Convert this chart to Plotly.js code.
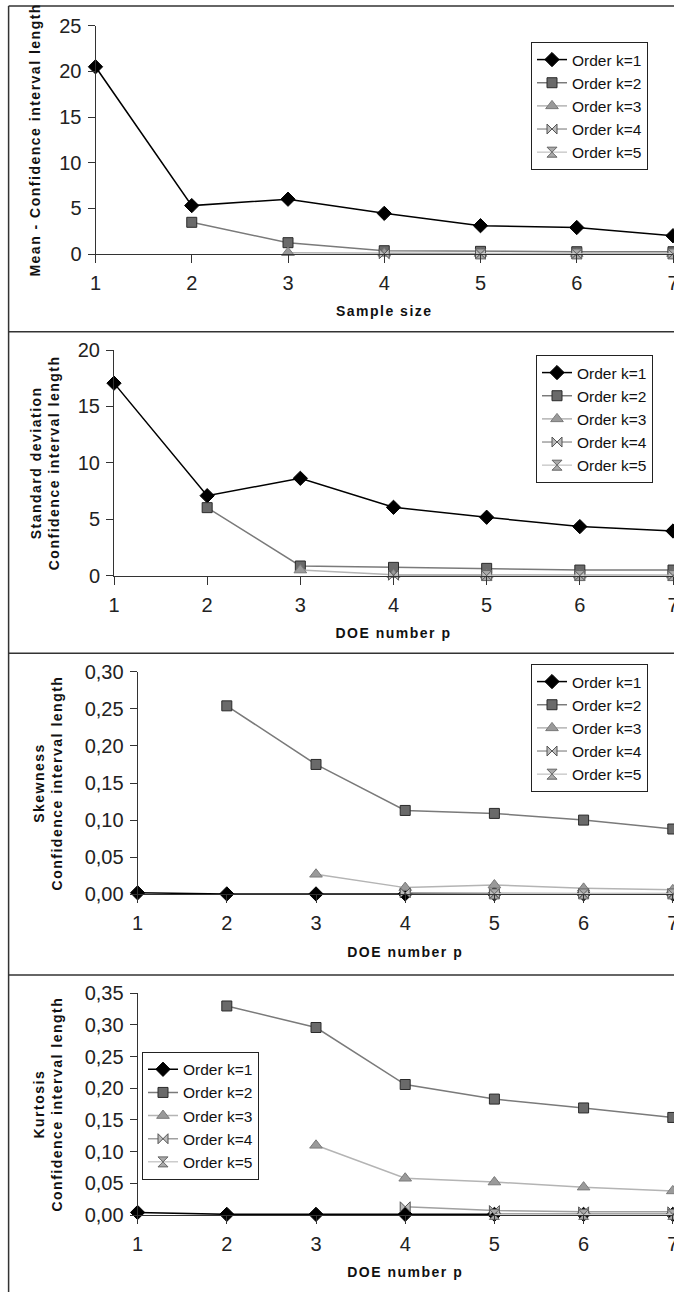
<!DOCTYPE html>
<html>
<head>
<meta charset="utf-8">
<script src="https://cdn.plot.ly/plotly-3.0.1.min.js"></script>
<style>
  html, body { margin: 0; padding: 0; background: #fff; }
  #chart { width: 674px; height: 1292px; }
  text.xtitle, text.x2title, text.x3title, text.x4title,
  text.ytitle, text.y2title, text.y3title, text.y4title { letter-spacing: 1.5px; }
</style>
</head>
<body>
<div id="chart"></div>
<script>
// ---------- data ----------
const xValues = [1, 2, 3, 4, 5, 6, 7];
const seriesNames = ['Order k=1', 'Order k=2', 'Order k=3', 'Order k=4', 'Order k=5'];

// Panel 1: Mean - confidence interval length vs sample size
const meanK1 = [20.5, 5.3, 6.0, 4.45, 3.1, 2.9, 2.0];
const meanK2 = [null, 3.47, 1.24, 0.36, 0.29, 0.25, 0.25];
const meanK3 = [null, null, 0.15, 0.08, 0.06, 0.05, 0.05];
const meanK4 = [null, null, null, 0.03, 0.02, 0.02, 0.02];
const meanK5 = [null, null, null, null, 0.01, 0.01, 0.01];

// Panel 2: Standard deviation
const stdK1 = [17.06, 7.09, 8.63, 6.06, 5.18, 4.35, 3.96];
const stdK2 = [null, 6.03, 0.86, 0.74, 0.65, 0.5, 0.5];
const stdK3 = [null, null, 0.5, 0.08, 0.06, 0.05, 0.05];
const stdK4 = [null, null, null, 0.04, 0.03, 0.02, 0.02];
const stdK5 = [null, null, null, null, 0.01, 0.01, 0.01];

// Panel 3: Skewness
const skewK1 = [0.002, 0.0005, 0.0005, 0.0005, 0.0005, 0.0005, 0.0005];
const skewK2 = [null, 0.254, 0.175, 0.113, 0.109, 0.100, 0.088];
const skewK3 = [null, null, 0.027, 0.009, 0.0125, 0.008, 0.006];
const skewK4 = [null, null, null, 0.002, 0.001, 0.001, 0.001];
const skewK5 = [null, null, null, null, 0.0005, 0.0005, 0.0005];

// Panel 4: Kurtosis
const kurtK1 = [0.004, 0.001, 0.001, 0.001, 0.001, 0.001, 0.001];
const kurtK2 = [null, 0.330, 0.296, 0.206, 0.183, 0.169, 0.154];
const kurtK3 = [null, null, 0.110, 0.058, 0.052, 0.044, 0.038];
const kurtK4 = [null, null, null, 0.013, 0.007, 0.005, 0.005];
const kurtK5 = [null, null, null, null, 0.001, 0.001, 0.001];

const yTitles = [
  'Mean - Confidence interval length',
  'Standard deviation<br>Confidence interval length',
  'Skewness<br>Confidence interval length',
  'Kurtosis<br>Confidence interval length'
];
const xTitles = ['Sample size', 'DOE number p', 'DOE number p', 'DOE number p'];
const yTickFormats = ['d', 'd', '.2f', '.2f'];

// ---------- styles ----------
const styles = [
  { line: '#000000', width: 1.5, symbol: 'diamond', size: 11, fill: '#000000', edge: '#000000' },
  { line: '#7a7a7a', width: 1.5, symbol: 'square', size: 10, fill: '#6a6a6a', edge: '#2a2a2a' },
  { line: '#b4b4b4', width: 1.5, symbol: 'triangle-up', size: 11, fill: '#9a9a9a', edge: '#7a7a7a' },
  { line: '#a0a0a0', width: 1.5, symbol: 'bowtie', size: 10, fill: '#bbbbbb', edge: '#555555' },
  { line: '#cccccc', width: 1.5, symbol: 'hourglass', size: 10, fill: '#aaaaaa', edge: '#666666' }
];

const panels = [
  [meanK1, meanK2, meanK3, meanK4, meanK5],
  [stdK1, stdK2, stdK3, stdK4, stdK5],
  [skewK1, skewK2, skewK3, skewK4, skewK5],
  [kurtK1, kurtK2, kurtK3, kurtK4, kurtK5]
];

const W = 674, H = 1292;
// pixel geometry of each plot area: [xLeft, xRight, yZero(px), yTop(px)]
const geom = [
  [95.5, 673.0, 254.0, 25.7],
  [114.0, 673.0, 575.7, 350.0],
  [137.6, 672.8, 894.3, 671.7],
  [137.6, 672.8, 1215.0, 993.3]
];
const yRanges = [[0, 25], [0, 20], [0, 0.30], [0, 0.35]];
const yDticks = [5, 5, 0.05, 0.05];
const yTitleStandoffs = [15, 14, 18, 18];
// legend top-left corners (px)
const legendPos = [[531, 42], [536, 355], [531, 664], [142, 1051.7]];

const traces = [];
panels.forEach((series, p) => {
  const sfx = p === 0 ? '' : String(p + 1);
  series.forEach((vals, k) => {
    const st = styles[k];
    traces.push({
      type: 'scatter', mode: 'lines+markers',
      x: xValues, y: vals, name: seriesNames[k],
      xaxis: 'x' + sfx, yaxis: 'y' + sfx,
      legend: 'legend' + sfx,
      connectgaps: false, cliponaxis: false,
      line: { color: st.line, width: st.width },
      marker: { symbol: st.symbol, size: st.size, color: st.fill, line: { color: st.edge, width: 1 } }
    });
  });
});

const tickFont = { family: 'Liberation Sans, Arial, sans-serif', size: 20, color: '#222' };
const titleFont = { family: 'Liberation Sans, Arial, sans-serif', size: 14, color: '#111', weight: 'bold' };

const layout = {
  width: W, height: H,
  margin: { l: 0, r: 0, t: 0, b: 0, pad: 0 },
  paper_bgcolor: '#fff', plot_bgcolor: 'rgba(0,0,0,0)',
  separators: ', ',
  font: { family: 'Liberation Sans, Arial, sans-serif', color: '#111' },
  showlegend: true,
  shapes: []
};

geom.forEach((g, p) => {
  const sfx = p === 0 ? '' : String(p + 1);
  layout['xaxis' + sfx] = {
    domain: [g[0] / W, g[1] / W], anchor: 'y' + sfx,
    range: [1, 7], tickmode: 'linear', tick0: 1, dtick: 1,
    showline: true, linecolor: '#333', linewidth: 1,
    ticks: 'outside', ticklen: 8, tickcolor: '#333',
    ticklabelstandoff: 3, ticklabeloverflow: 'allow',
    showgrid: false, zeroline: false,
    tickfont: tickFont,
    title: { text: xTitles[p], font: titleFont, standoff: 13 }
  };
  layout['yaxis' + sfx] = {
    domain: [1 - g[2] / H, 1 - g[3] / H], anchor: 'x' + sfx,
    range: yRanges[p], tickmode: 'linear', tick0: 0, dtick: yDticks[p],
    tickformat: yTickFormats[p],
    showline: true, linecolor: '#333', linewidth: 1,
    ticks: 'outside', ticklen: 7, tickcolor: '#333',
    ticklabelstandoff: 2, ticklabeloverflow: 'allow',
    showgrid: false, zeroline: false,
    tickfont: tickFont,
    title: { text: yTitles[p], font: titleFont, standoff: yTitleStandoffs[p] }
  };
  const lp = legendPos[p];
  layout['legend' + sfx] = {
    x: lp[0] / W, y: 1 - lp[1] / H, xanchor: 'left', yanchor: 'top',
    xref: 'paper', yref: 'paper',
    bgcolor: '#fff', bordercolor: '#222', borderwidth: 1,
    font: { family: 'Liberation Sans, Arial, sans-serif', size: 15.5, color: '#111' },
    itemwidth: 30, tracegroupgap: 0, itemclick: false, itemdoubleclick: false
  };
});

// panel frame lines (paper coords)
const frameColor = '#333';
const leftX = 8.6 / W;
const topY = 1 - 6 / H;
layout.shapes.push({ type: 'line', xref: 'paper', yref: 'paper', x0: leftX, x1: 1.01, y0: topY, y1: topY, line: { color: frameColor, width: 1.5 } });
layout.shapes.push({ type: 'line', xref: 'paper', yref: 'paper', x0: leftX, x1: leftX, y0: topY, y1: -0.01, line: { color: frameColor, width: 1.5 } });
[331.7, 653.3, 975].forEach(py => {
  const yy = 1 - py / H;
  layout.shapes.push({ type: 'line', xref: 'paper', yref: 'paper', x0: leftX, x1: 1.01, y0: yy, y1: yy, line: { color: frameColor, width: 1.5 } });
});

Plotly.newPlot('chart', traces, layout, { displayModeBar: false, staticPlot: true });
</script>
</body>
</html>
